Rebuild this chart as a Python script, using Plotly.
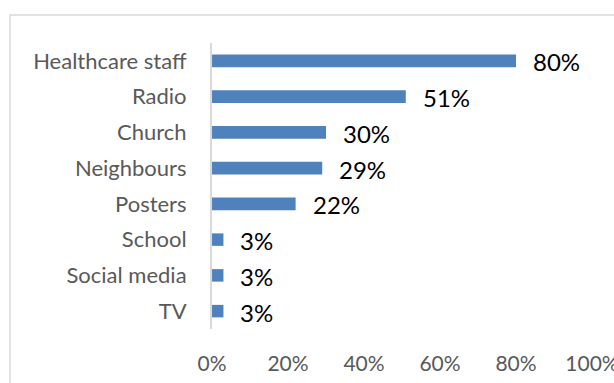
import plotly.graph_objects as go

categories = ["Healthcare staff", "Radio", "Church", "Neighbours", "Posters", "School", "Social media", "TV"]
values = [0.80, 0.51, 0.30, 0.29, 0.22, 0.03, 0.03, 0.03]
value_labels = ["80%", "51%", "30%", "29%", "22%", "3%", "3%", "3%"]
x_ticks = [0, 0.2, 0.4, 0.6, 0.8, 1.0]
x_tick_labels = ["0%", "20%", "40%", "60%", "80%", "100%"]

FONT = "Lato"
GRAY = "#595959"
BLUE = "#4F81BD"

fig = go.Figure()
fig.add_trace(go.Bar(
    x=values, y=categories, orientation="h",
    marker=dict(color=BLUE, line=dict(width=0)),
    hoverinfo="skip",
))

for v, c, t in zip(values, categories, value_labels):
    fig.add_annotation(x=v, y=c, xref="x", yref="y", text=t, showarrow=False,
                       xanchor="left", xshift=15, yshift=-1,
                       font=dict(family=FONT, size=24, color="#000000"))

# chart border (partially outside view, like the reference crop)
fig.add_shape(type="rect", xref="paper", yref="paper",
              x0=-0.5316, x1=1.3, y0=-0.3, y1=1.098,
              line=dict(color="#D9D9D9", width=1.5), layer="below")

fig.update_layout(
    width=614, height=383,
    margin=dict(l=212, r=22, t=43, b=54),
    paper_bgcolor="white", plot_bgcolor="white",
    bargap=0.65, showlegend=False,
    font=dict(family=FONT, color=GRAY, size=22),
)
fig.update_xaxes(range=[-0.0001, 1.0001], tickvals=x_ticks, ticktext=x_tick_labels,
                 showgrid=False, zeroline=False, showline=False, automargin=False,
                 ticks="", ticklabelstandoff=20, ticklabeloverflow="allow",
                 tickfont=dict(family=FONT, size=21, color=GRAY))
fig.update_yaxes(categoryorder="array", categoryarray=categories[::-1],
                 showgrid=False, zeroline=False, showline=True, automargin=False,
                 linecolor="#D9D9D9", linewidth=2, ticks="",
                 ticklabelstandoff=19,
                 tickfont=dict(family=FONT, size=22, color=GRAY))

fig.write_html("out.html")
